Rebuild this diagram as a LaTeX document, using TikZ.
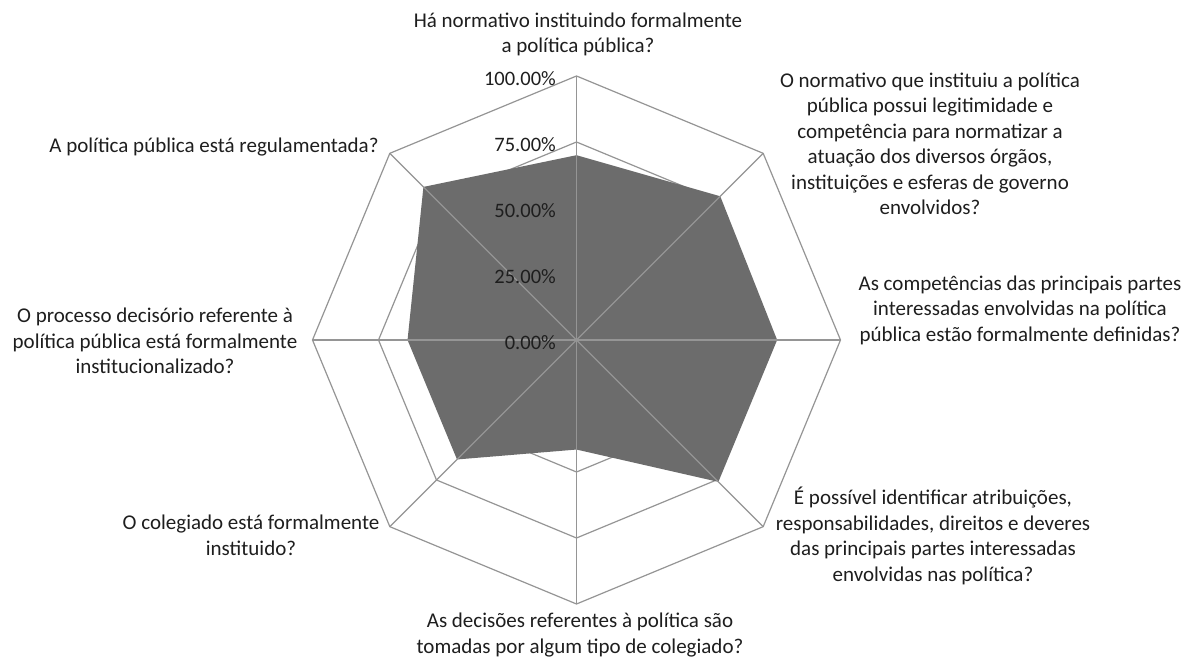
\documentclass[tikz,border=0pt]{standalone}
\usepackage{fontspec}
\setmainfont{Carlito}
\usetikzlibrary{calc}
\definecolor{gridc}{HTML}{959595}
\definecolor{fillc}{HTML}{6C6C6C}
\definecolor{txt}{HTML}{1E1E1E}
\begin{document}
\begin{tikzpicture}[x=1pt,y=1pt,
  lbl/.style={align=center, font=\fontsize{21}{25.5}\selectfont, text=txt, inner sep=0pt},
  ticklbl/.style={anchor=east, font=\fontsize{20.5}{24}\selectfont, text=txt, inner sep=0pt},
  gridline/.style={draw=gridc, line width=1.2pt, line join=miter},
  spokeline/.style={draw=gridc, line width=1.2pt}]
\useasboundingbox[fill=white] (0,0) rectangle (1187,666);
\coordinate (C) at (576.5,326);
% rings
\foreach \r in {66,132,198,264}{
  \draw[gridline, shift={(C)}] (90:\r) -- (45:\r) -- (0:\r) -- (-45:\r) -- (-90:\r) -- (-135:\r) -- (180:\r) -- (135:\r) -- cycle;
}
% data area
\fill[fillc, shift={(C)}] (90:{0.70*264}) -- (45:{0.77*264}) -- (0:{0.76*264}) -- (-45:{0.76*264}) -- (-90:{0.415*264}) -- (-135:{0.64*264}) -- (180:{0.64*264}) -- (135:{0.82*264}) -- cycle;
% spokes
\foreach \a [count=\k] in {90,45,0,-45,-90,-135,180,135}{
  \coordinate (v\k) at ($(C)+(\a:264)$);
  \draw[spokeline] (C) -- (v\k);
}
% tick labels
\node[ticklbl] (t100) at (556,{326+264-3}) {100.00\%};
\node[ticklbl] (t75) at (556,{326+198-3}) {75.00\%};
\node[ticklbl] (t50) at (556,{326+132-3}) {50.00\%};
\node[ticklbl] (t25) at (556,{326+66-3}) {25.00\%};
\node[ticklbl] (t0) at (556,{326-3}) {0.00\%};
% category labels
\node[lbl] (l1) at (578,631.5) {Há normativo instituindo formalmente\\a política pública?};
\node[lbl] (l2) at (930,522) {O normativo que instituiu a política\\pública possui legitimidade e\\competência para normatizar a\\atuação dos diversos órgãos,\\instituições e esferas de governo\\envolvidos?};
\node[lbl] (l3) at (1020,356) {As competências das principais partes\\interessadas envolvidas na política\\pública estão formalmente definidas?};
\node[lbl] (l4) at (933,130) {É possível identificar atribuições,\\responsabilidades, direitos e deveres\\das principais partes interessadas\\envolvidas nas política?};
\node[lbl] (l5) at (580,31) {As decisões referentes à política são\\tomadas por algum tipo de colegiado?};
\node[lbl] (l6) at (251,130.5) {O colegiado está formalmente\\instituido?};
\node[lbl] (l7) at (155,325) {O processo decisório referente à\\política pública está formalmente\\institucionalizado?};
\node[lbl] (l8) at (214,519) {A política pública está regulamentada?};
\end{tikzpicture}
\end{document}
